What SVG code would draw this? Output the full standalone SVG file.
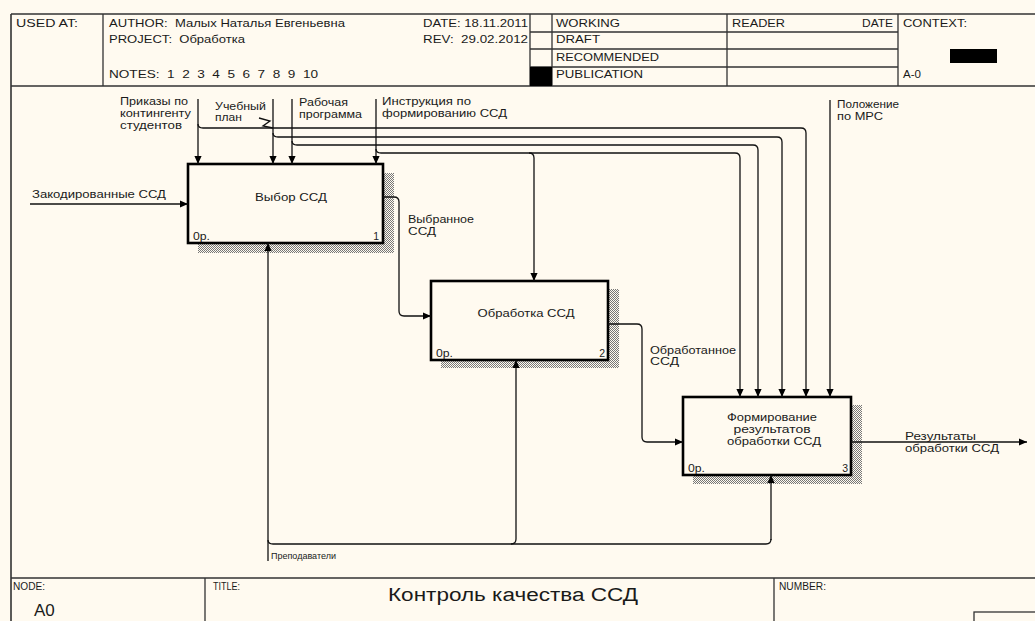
<svg xmlns="http://www.w3.org/2000/svg" width="1035" height="621" viewBox="0 0 1035 621">
<style>
text{font-family:"Liberation Sans",Arial,sans-serif;fill:#1a1a1a}
.h{font-size:11px}
.f{font-size:10px}
.bl{font-size:10.5px}
.al{font-size:10px}
.frame{stroke:#333;stroke-width:1.6;fill:none}
.cell{stroke:#333;stroke-width:1.3;fill:none}
.box{fill:#fffaf0;stroke:#000;stroke-width:2.6}
.sh{fill:url(#hatch)}
.c{fill:none;stroke:#111;stroke-width:1.3}
.ca{fill:none;stroke:#111;stroke-width:1.3;marker-end:url(#ah)}
</style>
<defs>
<pattern id="hatch" width="2" height="2" patternUnits="userSpaceOnUse">
<rect width="2" height="2" fill="#fffaf0"/>
<rect width="1" height="1" fill="#777"/>
<rect x="1" y="1" width="1" height="1" fill="#777"/>
</pattern>
<marker id="ah" viewBox="0 0 10 10" refX="10" refY="5" markerWidth="8" markerHeight="8" orient="auto" markerUnits="userSpaceOnUse">
<path d="M0,0.5 L10,5 L0,9.5 z" fill="#000"/>
</marker>
</defs>
<rect width="1035" height="621" fill="#fffaf0"/>

<g id="header">
<path class="frame" d="M11,14 H1035 M11,14 V621 M11,86 H1035 M11,578 H1035"/>
<path class="cell" d="M103,14 V86 M530,14 V86 M552,14 V86 M727,14 V86 M898,14 V86 M530,32 H898 M530,49 H898 M530,67 H898"/>
<rect x="530" y="67" width="22" height="19" fill="#000"/>
<rect x="950" y="49" width="47" height="14" fill="#000"/>
<text class="h" x="16" y="27" textLength="62" lengthAdjust="spacingAndGlyphs">USED AT:</text>
<text class="h" x="109" y="27" textLength="236" lengthAdjust="spacingAndGlyphs" xml:space="preserve">AUTHOR:  Малых Наталья Евгеньевна</text>
<text class="h" x="109" y="43" textLength="136" lengthAdjust="spacingAndGlyphs" xml:space="preserve">PROJECT:  Обработка</text>
<text class="h" x="109" y="78" textLength="209" lengthAdjust="spacingAndGlyphs" xml:space="preserve">NOTES:  1  2  3  4  5  6  7  8  9  10</text>
<text class="h" x="423" y="27" textLength="105" lengthAdjust="spacingAndGlyphs">DATE: 18.11.2011</text>
<text class="h" x="423" y="43" textLength="105" lengthAdjust="spacingAndGlyphs" xml:space="preserve">REV:  29.02.2012</text>
<text class="h" x="556" y="27" textLength="64" lengthAdjust="spacingAndGlyphs">WORKING</text>
<text class="h" x="556" y="43" textLength="44" lengthAdjust="spacingAndGlyphs">DRAFT</text>
<text class="h" x="556" y="61" textLength="103" lengthAdjust="spacingAndGlyphs">RECOMMENDED</text>
<text class="h" x="556" y="78" textLength="87" lengthAdjust="spacingAndGlyphs">PUBLICATION</text>
<text class="h" x="732" y="27" textLength="53" lengthAdjust="spacingAndGlyphs">READER</text>
<text class="h" x="862" y="27" textLength="31" lengthAdjust="spacingAndGlyphs">DATE</text>
<text class="h" x="903" y="27" textLength="64" lengthAdjust="spacingAndGlyphs">CONTEXT:</text>
<text class="h" x="903" y="78" textLength="18" lengthAdjust="spacingAndGlyphs">A-0</text>
</g>

<g id="footer">
<path class="cell" d="M205,578 V621 M774,578 V621"/>
<rect x="974" y="612" width="70" height="20" class="cell"/>
<text class="f" x="13" y="590" textLength="32" lengthAdjust="spacingAndGlyphs">NODE:</text>
<text x="34" y="616" style="font-size:17px">A0</text>
<text class="f" x="213" y="590" textLength="27" lengthAdjust="spacingAndGlyphs">TITLE:</text>
<text x="513" y="601" text-anchor="middle" style="font-size:18px" textLength="250" lengthAdjust="spacingAndGlyphs">Контроль качества ССД</text>
<text class="f" x="779" y="590" textLength="47" lengthAdjust="spacingAndGlyphs">NUMBER:</text>
</g>

<g id="node1">
<rect class="sh" x="198" y="173" width="196" height="80"/>
<rect class="box" x="188" y="164" width="195" height="79"/>
<text class="bl" x="291" y="201" text-anchor="middle" textLength="72" lengthAdjust="spacingAndGlyphs">Выбор ССД</text>
<text class="bl" x="193" y="240" textLength="17" lengthAdjust="spacingAndGlyphs">0р.</text>
<text class="bl" x="379" y="240" text-anchor="end">1</text>
</g>

<g id="node2">
<rect class="sh" x="441" y="289" width="178" height="79"/>
<rect class="box" x="431" y="281" width="177" height="79"/>
<text class="bl" x="526" y="317" text-anchor="middle" textLength="97" lengthAdjust="spacingAndGlyphs">Обработка ССД</text>
<text class="bl" x="436" y="357" textLength="17" lengthAdjust="spacingAndGlyphs">0р.</text>
<text class="bl" x="605" y="357" text-anchor="end">2</text>
</g>

<g id="node3">
<rect class="sh" x="693" y="405" width="169" height="79"/>
<rect class="box" x="683" y="397" width="168" height="78"/>
<text class="bl" x="772" y="421" text-anchor="middle" textLength="90" lengthAdjust="spacingAndGlyphs">Формирование</text>
<text class="bl" x="772" y="433" text-anchor="middle" textLength="77" lengthAdjust="spacingAndGlyphs">результатов</text>
<text class="bl" x="774" y="445" text-anchor="middle" textLength="94" lengthAdjust="spacingAndGlyphs">обработки ССД</text>
<text class="bl" x="688" y="472" textLength="17" lengthAdjust="spacingAndGlyphs">0р.</text>
<text class="bl" x="848" y="472" text-anchor="end">3</text>
</g>

<g id="connectors">
<path class="ca" d="M30,204 H188"/>
<path class="ca" d="M383,197 H394 Q399,197 399,202 V311 Q399,316 404,316 H431"/>
<path class="ca" d="M608,324 H637 Q642,324 642,329 V437 Q642,442 647,442 H683"/>
<path class="ca" d="M851,442 H1027"/>
<path class="ca" d="M198,99 V164"/>
<path class="ca" d="M273,99 V164"/>
<path class="ca" d="M292,99 V164"/>
<path class="ca" d="M376,99 V164"/>
<path class="ca" d="M198,124 Q198,128 203,128 H801 Q806,128 806,133 V397"/>
<path class="ca" d="M273,133 Q273,137 278,137 H777 Q782,137 782,142 V397"/>
<path class="ca" d="M292,141 Q292,145 297,145 H753 Q758,145 758,150 V397"/>
<path class="ca" d="M376,149 Q376,153 381,153 H735 Q740,153 740,158 V397"/>
<path class="ca" d="M529,153 Q534,153 534,158 V281"/>
<path class="ca" d="M830,100 V397"/>
<path class="ca" d="M268,561 V243"/>
<path class="c" d="M268,540 Q268,544 273,544 H766 Q771,544 771,539"/>
<path class="ca" d="M771,540 V475"/>
<path class="ca" d="M511,544 Q516,544 516,539 V360"/>
<path class="c" d="M259,118 L270,121 L263,126 L273,128"/>
</g>

<g id="labels">
<text class="al" x="32" y="198" textLength="134" lengthAdjust="spacingAndGlyphs">Закодированные ССД</text>
<text class="al" x="408" y="223" textLength="66" lengthAdjust="spacingAndGlyphs">Выбранное</text>
<text class="al" x="408" y="235" textLength="28" lengthAdjust="spacingAndGlyphs">ССД</text>
<text class="al" x="650" y="354" textLength="86" lengthAdjust="spacingAndGlyphs">Обработанное</text>
<text class="al" x="650" y="365" textLength="29" lengthAdjust="spacingAndGlyphs">ССД</text>
<text class="al" x="905" y="440" textLength="71" lengthAdjust="spacingAndGlyphs">Результаты</text>
<text class="al" x="905" y="452" textLength="94" lengthAdjust="spacingAndGlyphs">обработки ССД</text>
<text class="al" x="120" y="105" textLength="68" lengthAdjust="spacingAndGlyphs">Приказы по</text>
<text class="al" x="120" y="117" textLength="71" lengthAdjust="spacingAndGlyphs">контингенту</text>
<text class="al" x="120" y="129" textLength="62" lengthAdjust="spacingAndGlyphs">студентов</text>
<text class="al" x="215" y="110" textLength="51" lengthAdjust="spacingAndGlyphs">Учебный</text>
<text class="al" x="215" y="121" textLength="27" lengthAdjust="spacingAndGlyphs">план</text>
<text class="al" x="299" y="106" textLength="49" lengthAdjust="spacingAndGlyphs">Рабочая</text>
<text class="al" x="299" y="118" textLength="63" lengthAdjust="spacingAndGlyphs">программа</text>
<text class="al" x="382" y="105" textLength="89" lengthAdjust="spacingAndGlyphs">Инструкция по</text>
<text class="al" x="382" y="117" textLength="125" lengthAdjust="spacingAndGlyphs">формированию ССД</text>
<text class="al" x="837" y="108" textLength="62" lengthAdjust="spacingAndGlyphs">Положение</text>
<text class="al" x="837" y="120" textLength="46" lengthAdjust="spacingAndGlyphs">по МРС</text>
<text class="al" x="271" y="559" style="font-size:9px">Преподаватели</text>
</g>
</svg>
